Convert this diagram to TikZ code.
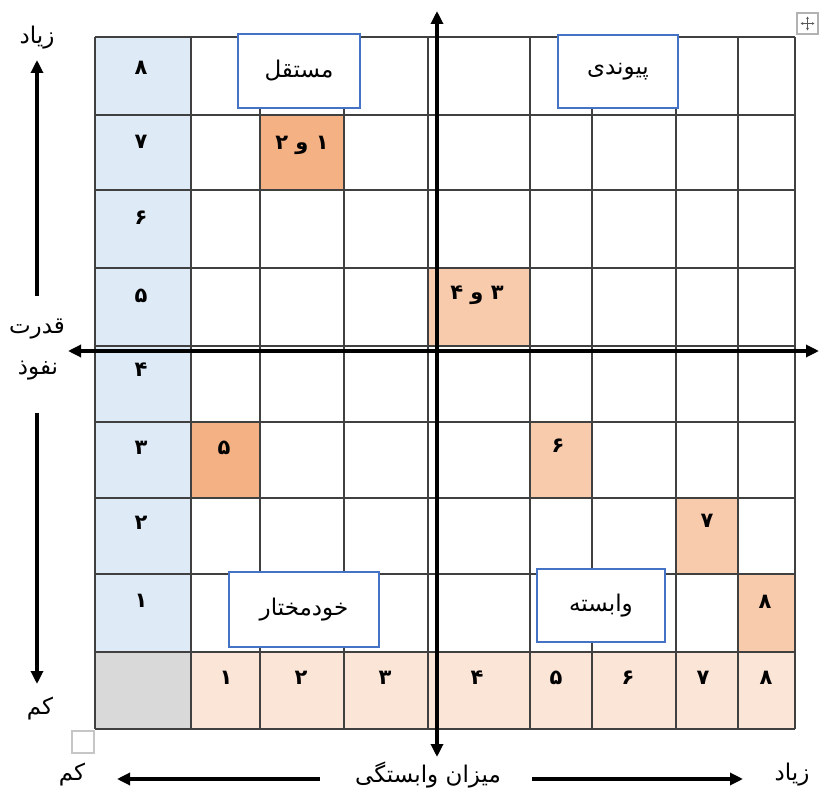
\documentclass[tikz,border=0pt]{standalone}
\usepackage{fontspec}
\usetikzlibrary{arrows.meta}
\TeXXeTstate=1
\newfontfamily\fa[Script=Arabic]{DejaVu Sans}
\definecolor{gridc}{HTML}{404040}
\definecolor{boxblue}{HTML}{4472C4}
\definecolor{lblue}{HTML}{DEEBF7}
\definecolor{lpeach}{HTML}{FBE5D6}
\definecolor{mpeach}{HTML}{F8CBAD}
\definecolor{dpeach}{HTML}{F4B183}
\definecolor{cgray}{HTML}{D9D9D9}
\tikzset{
  gridline/.style={draw=gridc, line width=1.1pt},
  qbox/.style={draw=boxblue, line width=2pt, fill=white, inner sep=0pt, font=\fa\fontsize{23}{26}\selectfont},
  num/.style={font=\fa\bfseries\fontsize{21}{24}\selectfont, inner sep=0pt},
  lbl/.style={font=\fa\fontsize{23}{26}\selectfont, inner sep=0pt},
  axis/.style={line width=3.2pt, {Triangle[length=13pt,width=12pt]}-{Triangle[length=13pt,width=12pt]}},
  sarrow/.style={line width=3.2pt, -{Triangle[length=13pt,width=12pt]}},
}
\begin{document}
\begin{tikzpicture}[x=1pt,y=-1pt]
\useasboundingbox (0,0) rectangle (820,791);
% fills
\fill[lblue] (95,37) rectangle (191,652);
\fill[lpeach] (191,652) rectangle (795,729);
\fill[cgray] (95,652) rectangle (191,729);
\fill[dpeach] (260,115) rectangle (344,190);
\fill[dpeach] (191,422) rectangle (260,498);
\fill[mpeach] (428,268) rectangle (530,346);
\fill[mpeach] (530,422) rectangle (592,498);
\fill[mpeach] (676,498) rectangle (738,574);
\fill[mpeach] (738,574) rectangle (795,652);
% grid
\foreach \x in {95,191,260,344,428,530,592,676,738,795}
  \draw[gridline] (\x,37) -- (\x,729);
\foreach \y in {37,115,190,268,346,422,498,574,652,729}
  \draw[gridline] (95,\y) -- (795,\y);
% left column numbers
\node[num] (r8) at (141,68) {۸};
\node[num] (r7) at (141,142) {۷};
\node[num] (r6) at (141,218) {۶};
\node[num] (r5) at (141,296) {۵};
\node[num] (r4) at (141,370) {۴};
\node[num] (r3) at (141,448) {۳};
\node[num] (r2) at (141,523) {۲};
\node[num] (r1) at (141,601) {۱};
% bottom row numbers
\node[num] (c1) at (226,678) {۱};
\node[num] (c2) at (301,678) {۲};
\node[num] (c3) at (385,678) {۳};
\node[num] (c4) at (477,678) {۴};
\node[num] (c5) at (556,678) {۵};
\node[num] (c6) at (628,678) {۶};
\node[num] (c7) at (703,678) {۷};
\node[num] (c8) at (766,678) {۸};
% cell entries
\node[num] (e12) at (302,145) {\beginR ۱ و ۲\endR};
\node[num] (e34) at (477,295) {\beginR ۳ و ۴\endR};
\node[num] (e5) at (224,448) {۵};
\node[num] (e6) at (558,446) {۶};
\node[num] (e7) at (707,521) {۷};
\node[num] (e8) at (765,602) {۸};
% quadrant boxes
\node[qbox, minimum width=122, minimum height=74] (mostaghel) at (299,71) {\beginR مستقل\endR};
\node[qbox, minimum width=120, minimum height=73] (peyvandi) at (618,71.5) {\beginR پیوندی\endR};
\node[qbox, minimum width=150, minimum height=75] (khod) at (304,609.5) {\beginR خودمختار\endR};
\node[qbox, minimum width=128, minimum height=73] (vabaste) at (601,605.5) {\beginR وابسته\endR};
% axes
\coordinate (vtop) at (437,11);
\coordinate (vbot) at (437,757);
\coordinate (hleft) at (68,351);
\coordinate (hright) at (819,351);
\draw[axis] (vbot) -- (vtop);
\draw[axis] (hleft) -- (hright);
% left side labels and arrows
\node[lbl] (ziadL) at (37,38) {\beginR زیاد\endR};
\node[lbl] (qodrat) at (37,329) {\beginR قدرت\endR};
\node[lbl] (nofuz) at (38,371) {\beginR نفوذ\endR};
\node[lbl] (kamL) at (40,709) {\beginR کم\endR};
\coordinate (upS) at (37,296);
\coordinate (upE) at (37,60);
\coordinate (dnS) at (37,413);
\coordinate (dnE) at (37,684);
\draw[sarrow] (upS) -- (upE);
\draw[sarrow] (dnS) -- (dnE);
% bottom labels and arrows
\node[lbl] (kamB) at (72,775) {\beginR کم\endR};
\node[lbl] (mizan) at (428,775) {\beginR میزان وابستگی\endR};
\node[lbl] (ziadB) at (792,775) {\beginR زیاد\endR};
\coordinate (lS) at (320,779);
\coordinate (lE) at (117,779);
\coordinate (rS) at (532,779);
\coordinate (rE) at (743,779);
\draw[sarrow] (lS) -- (lE);
\draw[sarrow] (rS) -- (rE);
% small handles
\node[draw=gray!60, line width=1.2pt, minimum width=21, minimum height=21, inner sep=0pt] (movebox) at (807.5,23.5) {};
\draw[gray!70!black, line width=0.6pt, {Triangle[length=2.5pt,width=2.5pt]}-{Triangle[length=2.5pt,width=2.5pt]}] (movebox.center) ++(-7,0) -- ++(14,0);
\draw[gray!70!black, line width=0.6pt, {Triangle[length=2.5pt,width=2.5pt]}-{Triangle[length=2.5pt,width=2.5pt]}] (movebox.center) ++(0,-7) -- ++(0,14);
\node[draw=gray!45, line width=1.5pt, minimum width=22, minimum height=22, inner sep=0pt] (cornerbox) at (83,742) {};
\end{tikzpicture}
\end{document}
